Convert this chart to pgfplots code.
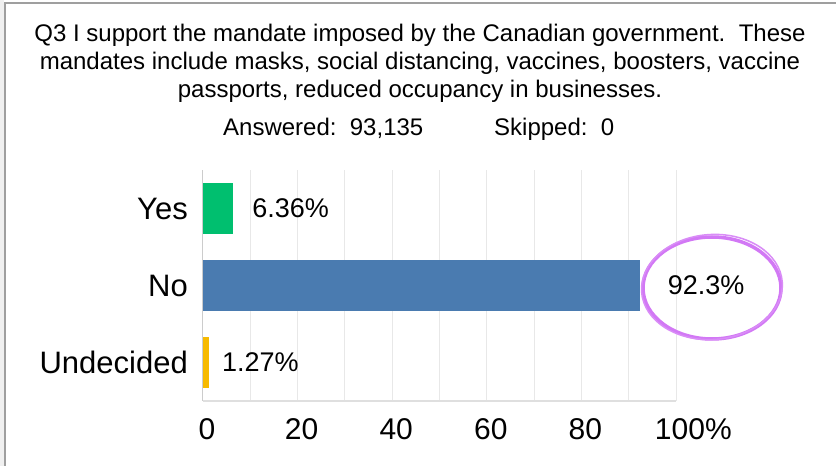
\documentclass[border=0pt]{standalone}
\usepackage{fontspec}
\setmainfont{Liberation Sans}
\usepackage{pgfplots}
\pgfplotsset{compat=1.18}

\definecolor{yesgreen}{RGB}{0,191,111}
\definecolor{noblue}{RGB}{74,123,176}
\definecolor{undyellow}{RGB}{247,186,0}
\definecolor{gridgray}{RGB}{232,232,232}
\definecolor{circlepurple}{RGB}{210,120,245}

\begin{document}
\begin{tikzpicture}
\useasboundingbox (0,0) rectangle (836pt,466pt);
\fill[white] (0,0) rectangle (836pt,466pt);
% frame at the left and top
\fill[gray!12] (0,0) rectangle (4pt,466pt);
\draw[gray!75, line width=1.5pt] (5pt,0) -- (5pt,463pt) -- (836pt,463pt);

% title
\begin{scope}[every node/.style={font=\fontsize{24pt}{28pt}\selectfont, inner sep=0pt}]
\node[anchor=base] at (420pt,424pt) {Q3 I support the mandate imposed by the Canadian government.\ \ These};
\node[anchor=base] at (420pt,396pt) {mandates include masks, social distancing, vaccines, boosters, vaccine};
\node[anchor=base] at (420pt,368pt) {passports, reduced occupancy in businesses.};
\node[anchor=base west] at (223pt,330pt) {Answered:\ \ 93,135};
\node[anchor=base west] at (494pt,330pt) {Skipped:\ \ 0};
\end{scope}

\begin{axis}[
  at={(203pt,65pt)}, anchor=south west,
  scale only axis, width=473pt, height=231pt,
  xmin=0, xmax=100, ymin=-0.5, ymax=2.5,
  clip=false,
  xbar, bar width=51pt,
  axis x line*=bottom, axis y line*=left,
  x axis line style={-, draw=gray!25, line width=2pt},
  y axis line style={-, draw=gray!40, line width=1pt},
  major tick length=0pt, minor tick length=0pt,
  xtick={0,20,40,60,80,100},
  minor xtick={10,30,50,70,90},
  xticklabels={0,20,40,60,80,100\rlap{\%}},
  ytick={0,1,2},
  yticklabels={Undecided,No,Yes},
  xmajorgrids, xminorgrids,
  major grid style={draw=gridgray, line width=1pt},
  minor grid style={draw=gridgray, line width=1pt},
  /pgf/number format/assume math mode=true,
  xticklabel style={font=\fontsize{30pt}{36pt}\selectfont, inner sep=0pt, anchor=north, yshift=-17pt, xshift=4pt},
  yticklabel style={font=\fontsize{31pt}{36pt}\selectfont, inner sep=0pt, anchor=east, xshift=-15pt},
  nodes near coords style={font=\fontsize{27pt}{30pt}\selectfont, inner sep=0pt, anchor=west, text=black},
]
\addplot[xbar, bar shift=0pt, fill=yesgreen, draw=none,
  nodes near coords={6.36\%}, nodes near coords style={xshift=19pt}]
  coordinates {(6.36,2)};
\addplot[xbar, bar shift=0pt, fill=noblue, draw=none,
  nodes near coords={92.3\%}, nodes near coords style={xshift=28pt}]
  coordinates {(92.3,1)};
\addplot[xbar, bar shift=0pt, fill=undyellow, draw=none,
  nodes near coords={1.27\%}, nodes near coords style={xshift=13pt}]
  coordinates {(1.27,0)};
\end{axis}

% hand-drawn circle round the largest value
\draw[circlepurple, line width=3.5pt] (712pt,178pt) ellipse (69pt and 51pt);
\draw[circlepurple!85, line width=1.5pt, rotate around={4:(712pt,178pt)}] (712pt,179pt) ellipse (70.5pt and 52.5pt);
\end{tikzpicture}
\end{document}
